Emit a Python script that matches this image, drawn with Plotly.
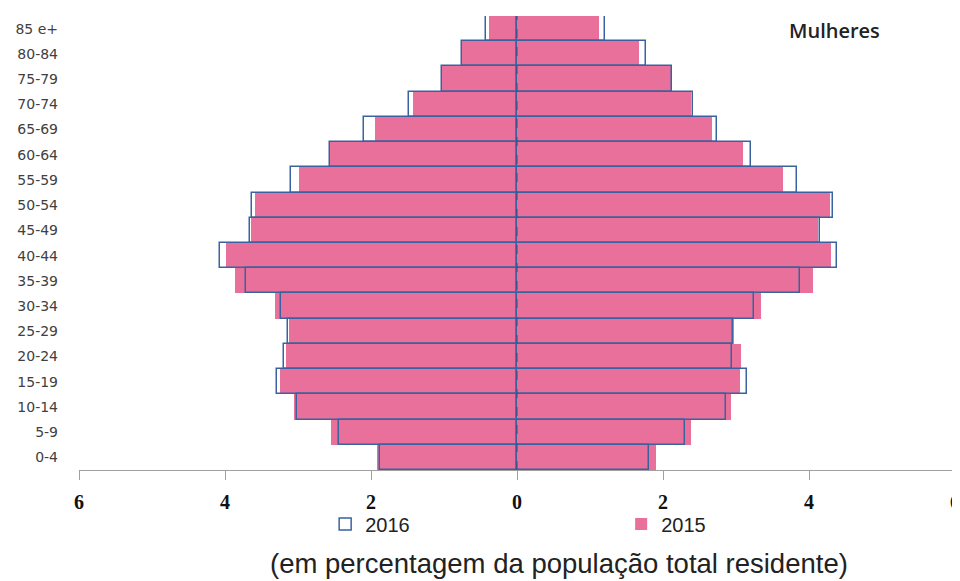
import plotly.graph_objects as go

age_groups = ["0-4", "5-9", "10-14", "15-19", "20-24", "25-29", "30-34", "35-39",
              "40-44", "45-49", "50-54", "55-59", "60-64", "65-69", "70-74",
              "75-79", "80-84", "85 e+"]

men_2016 = [1.88, 2.44, 3.01, 3.29, 3.19, 3.14, 3.23, 3.71, 4.07, 3.66, 3.63,
            3.09, 2.56, 2.09, 1.48, 1.03, 0.76, 0.43]
men_2015 = [1.92, 2.55, 3.06, 3.25, 3.17, 3.13, 3.32, 3.86, 3.98, 3.65, 3.59,
            2.98, 2.56, 1.95, 1.43, 1.03, 0.75, 0.39]
women_2016 = [1.81, 2.30, 2.86, 3.15, 2.94, 2.96, 3.25, 3.87, 4.39, 4.15, 4.33,
              3.84, 3.21, 2.74, 2.41, 2.13, 1.77, 1.20]
women_2015 = [1.90, 2.39, 2.93, 3.05, 3.07, 2.97, 3.34, 4.05, 4.30, 4.13, 4.29,
              3.65, 3.10, 2.67, 2.38, 2.12, 1.67, 1.13]

x_tickvals = [-6, -4, -2, 0, 2, 4, 6]
x_ticktext = ["6", "4", "2", "0", "2", "4", "6"]

PINK = "#E8709A"
OUTLINE = "#3A62A0"

fig = go.Figure()

# 2015 filled bars
fig.add_trace(go.Bar(y=age_groups, x=[-v for v in men_2015], orientation="h",
                     name="2015", legendgroup="2015", legendrank=2,
                     marker=dict(color=PINK, line=dict(width=0)),
                     customdata=men_2015,
                     hovertemplate="Homens %{y}: %{customdata}<extra>2015</extra>"))
fig.add_trace(go.Bar(y=age_groups, x=women_2015, orientation="h",
                     name="2015", legendgroup="2015", showlegend=False,
                     marker=dict(color=PINK, line=dict(width=0)),
                     hovertemplate="Mulheres %{y}: %{x}<extra>2015</extra>"))

# 2016 outlined bars
fig.add_trace(go.Bar(y=age_groups, x=[-v for v in men_2016], orientation="h",
                     name="2016", legendgroup="2016", legendrank=1,
                     marker=dict(color="rgba(0,0,0,0)", line=dict(color=OUTLINE, width=1.5)),
                     customdata=men_2016,
                     hovertemplate="Homens %{y}: %{customdata}<extra>2016</extra>"))
fig.add_trace(go.Bar(y=age_groups, x=women_2016, orientation="h",
                     name="2016", legendgroup="2016", showlegend=False,
                     marker=dict(color="rgba(0,0,0,0)", line=dict(color=OUTLINE, width=1.5)),
                     hovertemplate="Mulheres %{y}: %{x}<extra>2016</extra>"))

fig.add_shape(type="line", xref="x", yref="paper", x0=0, x1=0, y0=0, y1=1,
              line=dict(color="#3A4A7A", width=1, dash="dash"), layer="above")

fig.add_annotation(text="Mulheres", xref="paper", yref="paper", x=0.862, y=0.969,
                   xanchor="center", yanchor="middle", showarrow=False,
                   font=dict(family="Open Sans", size=20, color="#222222", weight=600))

fig.add_annotation(text="(em percentagem da população total residente)",
                   xref="paper", yref="paper", x=0.548, y=-0.207,
                   xanchor="center", yanchor="middle", showarrow=False,
                   font=dict(family="Liberation Sans", size=27.5, color="#222222"))

# page body has an 8px margin: figure is sized/offset to compensate
fig.update_layout(
    width=952, height=573,
    margin=dict(l=71, r=5, t=8, b=111, autoexpand=False),
    paper_bgcolor="white", plot_bgcolor="white",
    barmode="overlay", bargap=0,
    showlegend=True,
    legend=dict(orientation="h", x=0.281, y=-0.076, xanchor="left", yanchor="top",
                entrywidth=251, entrywidthmode="pixels",
                font=dict(family="Liberation Sans", size=20, color="#222222"),
                bgcolor="rgba(0,0,0,0)"),
    xaxis=dict(range=[-6, 6], tickvals=x_tickvals, ticktext=x_ticktext,
               automargin=False, ticklabeloverflow="allow",
               showgrid=False, zeroline=False, showline=True, linecolor="#A0A0A0",
               linewidth=1, ticks="outside", ticklen=9, tickcolor="#A0A0A0",
               ticklabelstandoff=5,
               tickfont=dict(family="Liberation Serif", size=20, color="#111111", weight="bold")),
    yaxis=dict(range=[-0.5, 17.5], showgrid=False, zeroline=False, showline=False,
               automargin=False,
               ticks="", ticklabelstandoff=20,
               tickfont=dict(family="DejaVu Sans", size=14, color="#404040")),
)

fig.write_html("out.html")
